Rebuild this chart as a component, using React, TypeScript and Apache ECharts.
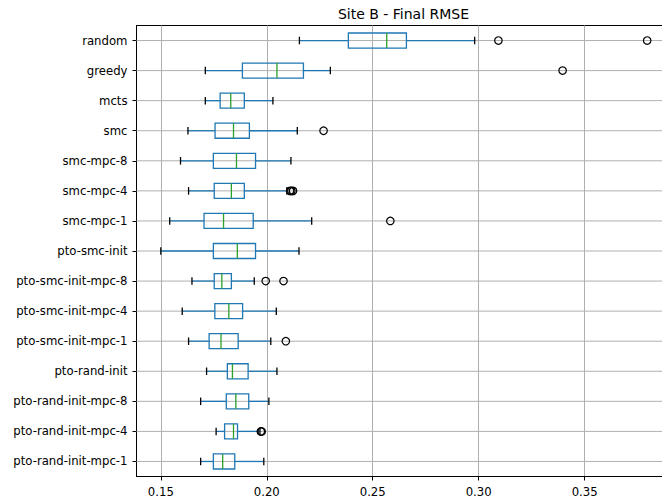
import React, { useEffect, useRef } from "react";
import * as echarts from "echarts";

// Methods, listed top to bottom
const categories = [
  "random",
  "greedy",
  "mcts",
  "smc",
  "smc-mpc-8",
  "smc-mpc-4",
  "smc-mpc-1",
  "pto-smc-init",
  "pto-smc-init-mpc-8",
  "pto-smc-init-mpc-4",
  "pto-smc-init-mpc-1",
  "pto-rand-init",
  "pto-rand-init-mpc-8",
  "pto-rand-init-mpc-4",
  "pto-rand-init-mpc-1",
];

// Five-number summaries of final RMSE per method
const whiskerLow = [0.2154, 0.171, 0.171, 0.1628, 0.1593, 0.1631, 0.1542, 0.15, 0.1647, 0.1601, 0.1631, 0.1716, 0.1688, 0.1761, 0.1688];
const q1 = [0.2385, 0.1885, 0.178, 0.1756, 0.1748, 0.1752, 0.1704, 0.1748, 0.1752, 0.1755, 0.1728, 0.1814, 0.1809, 0.1801, 0.1748];
const median = [0.2566, 0.2048, 0.183, 0.1843, 0.1857, 0.1833, 0.1796, 0.1861, 0.1788, 0.1821, 0.1784, 0.1838, 0.1854, 0.1843, 0.1792];
const q3 = [0.2659, 0.2173, 0.1894, 0.1918, 0.1947, 0.1894, 0.1936, 0.1947, 0.1833, 0.1886, 0.1865, 0.1912, 0.1915, 0.1862, 0.1849];
const whiskerHigh = [0.2981, 0.23, 0.2029, 0.2144, 0.2114, 0.2095, 0.2212, 0.2152, 0.1941, 0.2045, 0.2019, 0.2048, 0.201, 0.1968, 0.1986];

// Outlying runs: [method, RMSE]
const outliers: [string, number][] = [
  ["random", 0.3093],
  ["random", 0.3795],
  ["greedy", 0.3396],
  ["smc", 0.2268],
  ["smc-mpc-4", 0.211],
  ["smc-mpc-4", 0.2116],
  ["smc-mpc-4", 0.2124],
  ["smc-mpc-1", 0.2583],
  ["pto-smc-init-mpc-8", 0.1995],
  ["pto-smc-init-mpc-8", 0.2079],
  ["pto-smc-init-mpc-1", 0.209],
  ["pto-rand-init-mpc-4", 0.1972],
  ["pto-rand-init-mpc-4", 0.1976],
];

const xTicks = [0.15, 0.2, 0.25, 0.3, 0.35];
const xMin = 0.13853;
const xMax = 0.39098;

const BLUE = "#1f77b4";
const GREEN = "#2ca02c";
const FONT = "DejaVu Sans";

export default function App() {
  const ref = useRef<HTMLDivElement>(null);

  useEffect(() => {
    if (!ref.current) return;
    const chart = echarts.init(ref.current, undefined, { renderer: "svg" });

    const boxData = categories.map((_, i) => [i, whiskerLow[i], q1[i], median[i], q3[i], whiskerHigh[i]]);
    const rowData = categories.map((_, i) => [xMin, i]);

    const renderBox = (params: any, api: any) => {
      const cat = api.value(0);
      const pLo = api.coord([api.value(1), cat]);
      const xQ1 = api.coord([api.value(2), cat])[0];
      const xMed = api.coord([api.value(3), cat])[0];
      const xQ3 = api.coord([api.value(4), cat])[0];
      const xHi = api.coord([api.value(5), cat])[0];
      const xLo = pLo[0];
      const yc = pLo[1];
      const band = api.size([0, 1])[1];
      const half = band * 0.25;
      const cap = band * 0.125;
      const lw = 1.3;
      return {
        type: "group",
        children: [
          { type: "line", shape: { x1: xLo, y1: yc, x2: xQ1, y2: yc }, style: { stroke: BLUE, lineWidth: lw } },
          { type: "line", shape: { x1: xQ3, y1: yc, x2: xHi, y2: yc }, style: { stroke: BLUE, lineWidth: lw } },
          { type: "line", shape: { x1: xLo, y1: yc - cap, x2: xLo, y2: yc + cap }, style: { stroke: "#000", lineWidth: lw } },
          { type: "line", shape: { x1: xHi, y1: yc - cap, x2: xHi, y2: yc + cap }, style: { stroke: "#000", lineWidth: lw } },
          {
            type: "rect",
            shape: { x: xQ1, y: yc - half, width: xQ3 - xQ1, height: half * 2 },
            style: { fill: "none", stroke: BLUE, lineWidth: lw },
          },
          { type: "line", shape: { x1: xMed, y1: yc - half, x2: xMed, y2: yc + half }, style: { stroke: GREEN, lineWidth: lw } },
        ],
      };
    };

    const renderRow = (params: any, api: any) => {
      const y = api.coord([api.value(0), api.value(1)])[1];
      const cs = params.coordSys;
      return {
        type: "line",
        shape: { x1: cs.x, y1: y, x2: cs.x + cs.width, y2: y },
        style: { stroke: "#b0b0b0", lineWidth: 1 },
      };
    };

    chart.setOption({
      animation: false,
      backgroundColor: "#ffffff",
      textStyle: { fontFamily: FONT },
      graphic: [
        {
          type: "text",
          x: 403.5,
          y: 13.5,
          style: {
            text: "Site B - Final RMSE",
            fontSize: 14,
            fontFamily: FONT,
            fill: "#000",
            textAlign: "center",
            textVerticalAlign: "middle",
            align: "center",
            verticalAlign: "middle",
          },
        },
      ],
      grid: {
        left: 136.5,
        top: 25.5,
        width: 535,
        height: 451,
        containLabel: false,
        outerBoundsMode: "none",
        show: true,
        borderColor: "#000",
        borderWidth: 1,
        backgroundColor: "transparent",
      },
      xAxis: {
        type: "value",
        min: xMin,
        max: xMax,
        axisLine: { show: true, lineStyle: { color: "#000", width: 1 } },
        axisTick: { show: true, inside: false, length: 4, customValues: xTicks, lineStyle: { color: "#000" } },
        axisLabel: {
          customValues: xTicks,
          formatter: (v: number) => v.toFixed(2),
          color: "#000",
          fontSize: 11.7,
          fontFamily: FONT,
          margin: 9.5,
        },
        splitLine: { show: true, lineStyle: { color: "#b0b0b0", width: 1 } },
      },
      yAxis: {
        type: "category",
        data: categories,
        inverse: true,
        axisLine: { show: true, lineStyle: { color: "#000", width: 1 } },
        axisTick: { show: true, alignWithLabel: true, length: 4, lineStyle: { color: "#000" } },
        axisLabel: { color: "#000", fontSize: 11.7, fontFamily: FONT, margin: 9 },
        splitLine: { show: false },
      },
      series: [
        {
          type: "custom",
          name: "rows",
          data: rowData,
          encode: { x: 0, y: 1 },
          renderItem: renderRow,
          silent: true,
          z: 1,
        },
        {
          type: "custom",
          name: "boxes",
          data: boxData,
          encode: { x: [1, 2, 3, 4, 5], y: 0 },
          renderItem: renderBox,
          z: 3,
        },
        {
          type: "scatter",
          name: "outliers",
          data: outliers.map(([c, v]) => [v, c]),
          symbol: "circle",
          symbolSize: 7.5,
          itemStyle: { color: "transparent", borderColor: "#000", borderWidth: 1.2, opacity: 1 },
          z: 4,
        },
      ],
    });

    return () => chart.dispose();
  }, []);

  return (
    <div
      ref={ref}
      style={{ position: "fixed", left: 0, top: 0, width: 662, height: 499 }}
    />
  );
}
